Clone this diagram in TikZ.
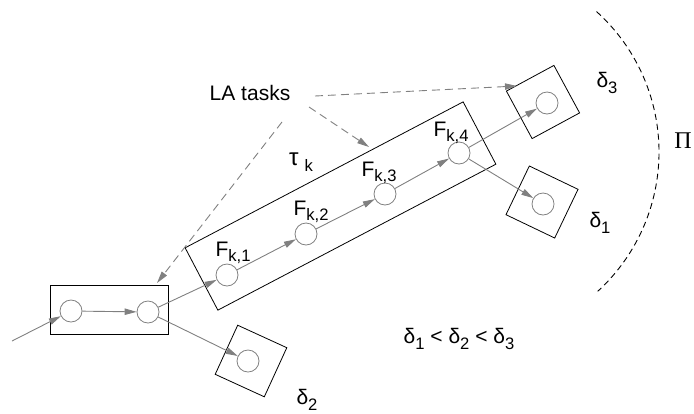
\documentclass[tikz,border=0pt]{standalone}
\usepackage{fontspec}
\setmainfont{Liberation Sans}
\newfontfamily\grkserif{Liberation Serif}
\usetikzlibrary{arrows.meta, positioning}
\newcommand{\lowidx}[1]{\raisebox{-0.5ex}{\fontsize{8.3}{9}\selectfont #1}}

\begin{document}
\begin{tikzpicture}[x=0.5pt, y=-0.5pt,
  task/.style={draw=gray, circle, minimum size=11pt, inner sep=0pt},
  tbox/.style={draw, minimum width=27pt, minimum height=27pt, inner sep=0pt},
  flow/.style={-{Triangle[length=6pt, width=3.2pt]}, gray, line width=0.45pt},
  laarr/.style={-{Triangle[length=6pt, width=3.2pt]}, gray, dash pattern=on 4pt off 2.5pt, line width=0.45pt},
  lbl/.style={font=\fontsize{10.5}{12}\selectfont, inner sep=0pt}
]
\useasboundingbox (0,0) rectangle (694,413);

% boxes
\node[draw, minimum width=59pt, minimum height=24.5pt] (lbox) at (109,309.5) {};
\node[draw, rotate=27.7, minimum width=157pt, minimum height=35.2pt] (tau) at (340.5,206) {};
\node[tbox, rotate=-24.6] (d2box) at (251,361) {};
\node[tbox, rotate=28.4] (d3box) at (543,102) {};
\node[tbox, rotate=-25.6] (d1box) at (542,202) {};

% tasks
\node[task] (c1) at (71,311) {};
\node[task] (c2) at (148,312) {};
\node[task] (f1) at (227,275) {};
\node[task] (f2) at (306,234) {};
\node[task] (f3) at (385,194) {};
\node[task] (f4) at (459,153) {};
\node[task] (d2) at (248,361) {};
\node[task] (d3) at (547,103) {};
\node[task] (d1) at (543,204) {};

% labels
\node[lbl] (lf1) at (233,253) {F\lowidx{k,1}};
\node[lbl] (lf2) at (311,212) {F\lowidx{k,2}};
\node[lbl] (lf3) at (379,173) {F\lowidx{k,3}};
\node[lbl] (lf4) at (451,133) {F\lowidx{k,4}};
\node[lbl] (ltau) at (301,162) {{\fontsize{12}{14}\selectfont τ} \lowidx{k}};
\node[lbl] (latasks) at (250,93) {LA tasks};
\node[lbl] (ld3) at (607,83) {δ\lowidx{3}};
\node[lbl] (ld1) at (600,223) {δ\lowidx{1}};
\node[lbl] (ld2) at (307,400) {δ\lowidx{2}};
\node[lbl] (lorder) at (459,339) {δ\lowidx{1} < δ\lowidx{2} < δ\lowidx{3}};
\node[inner sep=0pt, font=\grkserif\fontsize{12}{14}\selectfont] (lpi) at (683,141) {Π};

% flow of tasks
\coordinate (in) at (12,341);
\draw[flow] (in) -- (c1);
\draw[flow] (c1) -- (c2);
\draw[flow] (c2) -- (f1);
\draw[flow] (c2) -- (d2);
\draw[flow] (f1) -- (f2);
\draw[flow] (f2) -- (f3);
\draw[flow] (f3) -- (f4);
\draw[flow] (f4) -- (d3);
\draw[flow] (f4) -- (d1);

% LA task pointers
\coordinate (la1) at (282,122);
\coordinate (la2) at (309,107);
\coordinate (la3) at (315,96);
\coordinate (tip1) at (157,283);
\coordinate (tip2) at (369,147);
\coordinate (tip3) at (517,86);
\draw[laarr] (la1) -- (tip1);
\draw[laarr] (la2) -- (tip2);
\draw[laarr] (la3) -- (tip3);

% horizon
\draw[dash pattern=on 3pt off 2pt, line width=0.45pt] (470,152) ++(-48:189) arc[start angle=-48, end angle=47.5, radius=189];
\end{tikzpicture}
\end{document}
